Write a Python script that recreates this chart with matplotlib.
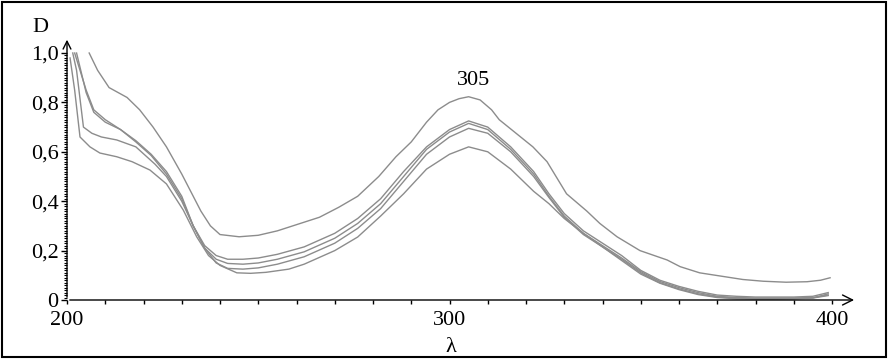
import numpy as np
import matplotlib
matplotlib.use("Agg")
import matplotlib.pyplot as plt
from matplotlib.patches import Rectangle
from matplotlib.ticker import MultipleLocator

plt.rcParams["font.family"] = ["Liberation Serif", "DejaVu Serif"]

# wavelength (nm) / optical density for the five spectra
wl_a = [205.8, 208, 211, 215.7, 219, 222.5, 226, 230, 233, 235, 237.5, 240, 245, 250, 255,
        261, 266, 271, 276, 281.5, 286, 290, 294, 297, 300, 302.5, 305, 308, 311, 313,
        317, 321.8, 325.5, 330.6, 335.9, 339.3, 343.8, 349.8, 356.9, 360.3, 365.4, 370,
        376.7, 382, 388, 393.5, 397, 399.5]
d_a = [1.0, 0.93, 0.86, 0.82, 0.77, 0.70, 0.62, 0.51, 0.42, 0.36, 0.30, 0.265, 0.256, 0.262, 0.28,
       0.31, 0.335, 0.375, 0.42, 0.50, 0.58, 0.64, 0.72, 0.77, 0.80, 0.815, 0.823, 0.81, 0.77, 0.73,
       0.68, 0.62, 0.56, 0.43, 0.36, 0.31, 0.256, 0.20, 0.162, 0.135, 0.11, 0.099,
       0.083, 0.076, 0.072, 0.074, 0.08, 0.09]

wl_grp = [205, 207, 210, 214, 218, 222, 226, 230, 233, 236, 239, 242, 246, 250, 255, 262, 270,
          276, 282, 288, 294, 300, 305, 310, 316, 322, 326, 330, 335, 340, 345, 350, 355, 360,
          365, 370, 375, 380, 385, 390, 395, 399]
wl_b = [202] + wl_grp
d_b = [1.0, 0.85, 0.77, 0.73, 0.69, 0.645, 0.59, 0.52, 0.42, 0.30, 0.22, 0.18, 0.165, 0.165, 0.17,
       0.185, 0.215, 0.27, 0.33, 0.41, 0.52, 0.62, 0.69, 0.725, 0.70, 0.62, 0.52, 0.43, 0.35, 0.28,
       0.23, 0.18, 0.12, 0.08, 0.055, 0.035, 0.02, 0.015, 0.012, 0.012, 0.012, 0.015, 0.03]
wl_c = [202.5] + wl_grp
d_c = [1.0, 0.84, 0.76, 0.72, 0.69, 0.64, 0.585, 0.51, 0.41, 0.30, 0.21, 0.165, 0.148, 0.145, 0.15,
       0.165, 0.195, 0.25, 0.31, 0.39, 0.50, 0.61, 0.68, 0.715, 0.69, 0.61, 0.51, 0.42, 0.34, 0.27,
       0.22, 0.17, 0.115, 0.075, 0.05, 0.03, 0.015, 0.01, 0.008, 0.008, 0.008, 0.01, 0.02]
wl_d = [201.5, 202.5, 204.3, 206.5, 209, 213, 218, 223, 226, 230, 233, 236, 239, 242, 246, 250,
        255, 262, 270, 276, 282, 288, 294, 300, 305, 310, 316, 322, 326, 330, 335, 340, 345, 350,
        355, 360, 365, 370, 375, 380, 385, 390, 395, 399]
d_d = [1.0, 0.93, 0.70, 0.675, 0.66, 0.648, 0.62, 0.55, 0.50, 0.40, 0.30, 0.21, 0.15, 0.128, 0.125,
       0.13, 0.145, 0.175, 0.23, 0.29, 0.37, 0.48, 0.59, 0.66, 0.695, 0.675, 0.60, 0.50, 0.415,
       0.335, 0.265, 0.215, 0.165, 0.11, 0.07, 0.045, 0.025, 0.012, 0.008, 0.005, 0.005, 0.006,
       0.008, 0.025]
wl_e = [200.8, 202, 203.4, 206, 208.6, 213, 217, 221.7, 226, 230.4, 233.9, 237, 240, 244.4, 248,
        252, 258, 262, 270, 276, 282, 288, 294, 300, 305, 310, 316, 322, 326, 330, 335, 340, 345,
        350, 355, 360, 365, 370, 375, 380, 385, 390, 395, 399]
d_e = [0.98, 0.85, 0.66, 0.62, 0.595, 0.58, 0.56, 0.526, 0.47, 0.364, 0.256, 0.18, 0.14, 0.11,
       0.108, 0.112, 0.125, 0.145, 0.20, 0.255, 0.34, 0.43, 0.53, 0.59, 0.62, 0.60, 0.53, 0.44,
       0.39, 0.33, 0.27, 0.215, 0.16, 0.105, 0.068, 0.042, 0.022, 0.01, 0.005, 0.004, 0.004,
       0.005, 0.008, 0.018]

y_ticks = [0, 0.2, 0.4, 0.6, 0.8, 1.0]
y_labels = ["0", "0,2", "0,4", "0,6", "0,8", "1,0"]
x_ticks = [200, 300, 400]
peak_wl = 305

fig = plt.figure(figsize=(8.88, 3.59), dpi=100)
# axes placed so that 200..400 / 0..1.0 hit the pixel positions of the original
ax = fig.add_axes([67 / 888, 59 / 359, 765 / 888, 247 / 359])
ax.set_xlim(200, 400)
ax.set_ylim(0, 1.0)

for wl, d in [(wl_a, d_a), (wl_b, d_b), (wl_c, d_c), (wl_d, d_d), (wl_e, d_e)]:
    ax.plot(wl, d, color="#8c8c8c", lw=1.0, clip_on=False)

for s in ax.spines.values():
    s.set_visible(False)

# axes with open arrow heads
ax.annotate("", xy=(406.5, 0), xytext=(200, 0), xycoords="data",
            arrowprops=dict(arrowstyle="->", color="black", lw=1.0, mutation_scale=18),
            annotation_clip=False)
ax.annotate("", xy=(200, 1.065), xytext=(200, 0), xycoords="data",
            arrowprops=dict(arrowstyle="->", color="black", lw=1.0, mutation_scale=14),
            annotation_clip=False)

ax.set_yticks(y_ticks)
ax.set_yticklabels(y_labels, fontsize=16)
ax.yaxis.set_minor_locator(MultipleLocator(0.01))
ax.set_xticks(x_ticks)
ax.set_xticklabels([str(t) for t in x_ticks], fontsize=16)
ax.xaxis.set_minor_locator(MultipleLocator(10))
ax.tick_params(axis="y", which="major", length=4, width=1, pad=2, direction="out")
ax.tick_params(axis="y", which="minor", length=2, width=0.8, direction="out")
ax.tick_params(axis="x", which="both", length=3, width=1, pad=5, direction="out")

ax.text(peak_wl + 1.2, 0.89, str(peak_wl), fontsize=16, ha="center", va="center")
fig.text(40 / 888, 1 - 28 / 359, "D", fontsize=16, ha="center", va="center")
fig.text(451 / 888, 11 / 359, "λ", fontsize=16, ha="center", va="center")

# frame round the whole picture
fig.patches.append(Rectangle((2 / 888, 2 / 359), 884 / 888, 355 / 359, transform=fig.transFigure,
                             fill=False, edgecolor="black", lw=1.5))

fig.savefig("out.png", dpi=100)
